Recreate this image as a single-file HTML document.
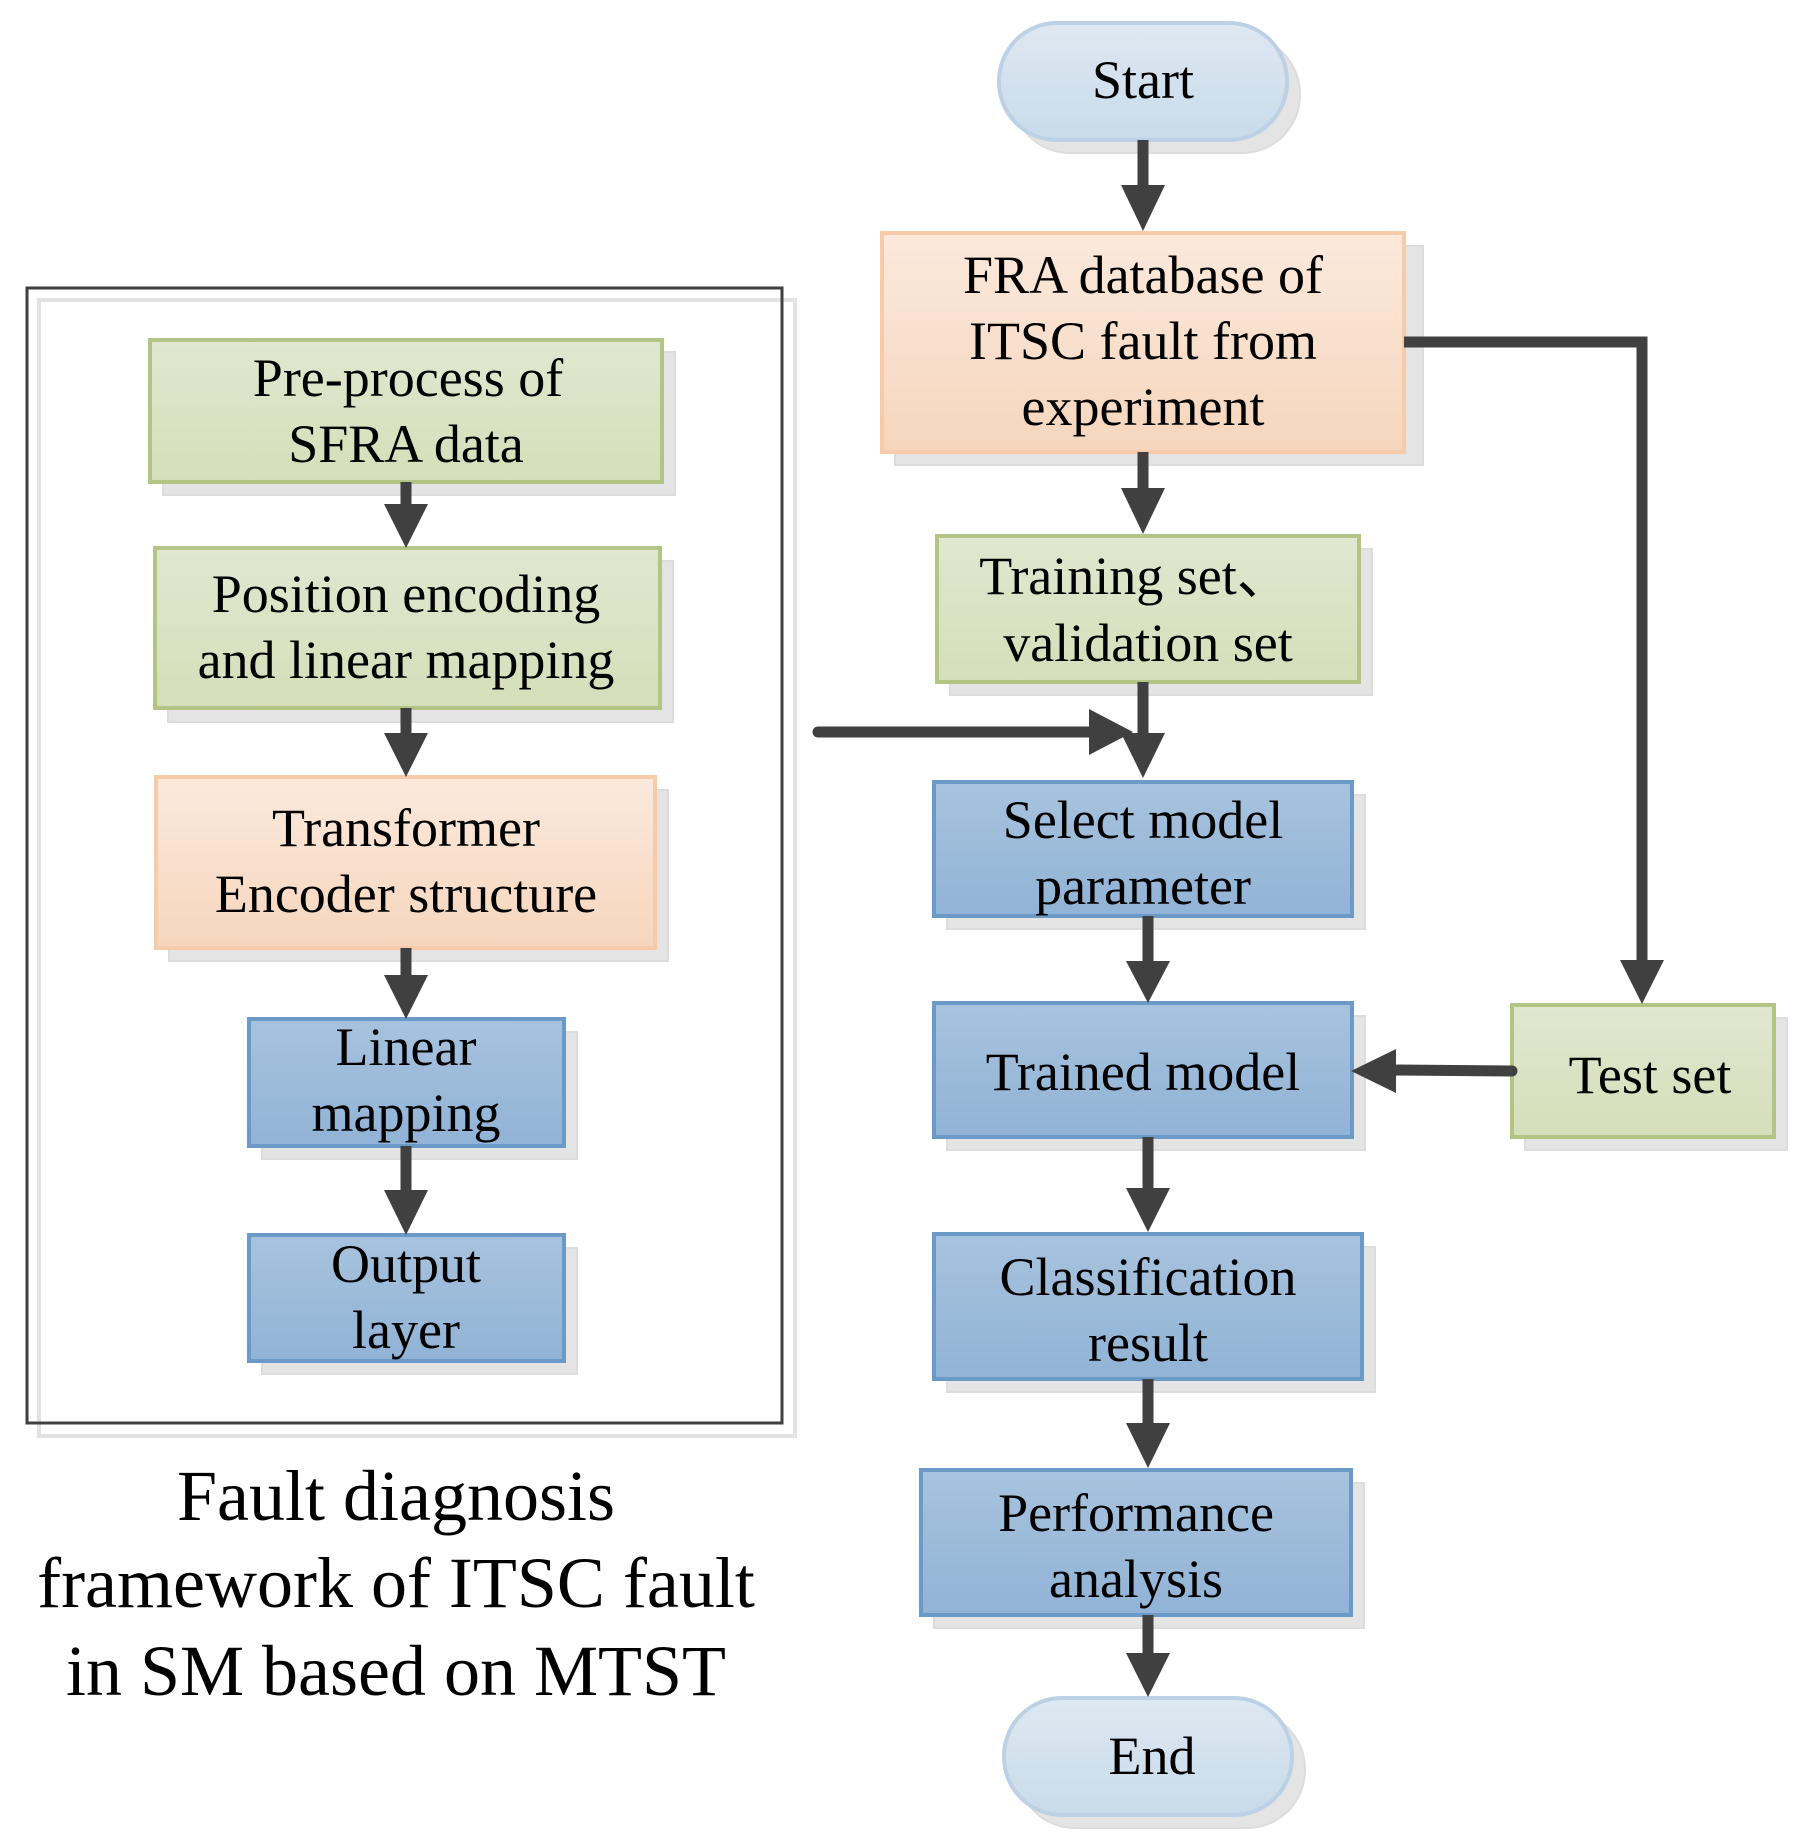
<!DOCTYPE html>
<html><head><meta charset="utf-8"><style>html,body{margin:0;padding:0;background:#fff}svg{display:block}</style></head><body>
<svg width="1813" height="1848" viewBox="0 0 1813 1848" xmlns="http://www.w3.org/2000/svg" font-family="'Liberation Serif',serif">
<defs>
<linearGradient id="g" x1="0" y1="0" x2="0" y2="1"><stop offset="0" stop-color="#e1e7d0"/><stop offset="1" stop-color="#d5deb9"/></linearGradient>
<linearGradient id="o" x1="0" y1="0" x2="0" y2="1"><stop offset="0" stop-color="#fbe9dc"/><stop offset="1" stop-color="#f6d6bd"/></linearGradient>
<linearGradient id="b" x1="0" y1="0" x2="0" y2="1"><stop offset="0" stop-color="#a7c3de"/><stop offset="1" stop-color="#91b3d6"/></linearGradient>
<linearGradient id="l" x1="0" y1="0" x2="0" y2="1"><stop offset="0" stop-color="#dfe8f2"/><stop offset="1" stop-color="#c8dbea"/></linearGradient>
</defs>
<rect x="39" y="300" width="756" height="1136" fill="none" stroke="#e3e3e3" stroke-width="4"/>
<rect x="27" y="288" width="755" height="1135" fill="none" stroke="#404040" stroke-width="3"/>
<g stroke-width="4">
<g fill="#e4e4e4" stroke="#dddddd" stroke-width="2">
<rect x="163" y="352" width="512" height="143"/>
<rect x="168" y="561" width="505" height="161"/>
<rect x="169" y="790" width="499" height="171"/>
<rect x="262" y="1032" width="315" height="127"/>
<rect x="262" y="1248" width="315" height="126"/>
<rect x="895" y="246" width="528" height="219"/>
<rect x="950" y="549" width="422" height="146"/>
<rect x="947" y="795" width="418" height="134"/>
<rect x="947" y="1016" width="418" height="134"/>
<rect x="1525" y="1018" width="262" height="132"/>
<rect x="947" y="1247" width="428" height="145"/>
<rect x="934" y="1483" width="430" height="145"/>
<rect x="1012" y="36" width="288" height="117" rx="58"/>
<rect x="1017" y="1711" width="288" height="117" rx="58"/>
</g>
<rect x="150" y="340" width="512" height="142" fill="url(#g)" stroke="#b4c485"/>
<rect x="155" y="548" width="505" height="160" fill="url(#g)" stroke="#b4c485"/>
<rect x="156" y="777" width="499" height="171" fill="url(#o)" stroke="#f5cba9"/>
<rect x="249" y="1019" width="315" height="127" fill="url(#b)" stroke="#6b9ac8"/>
<rect x="249" y="1235" width="315" height="126" fill="url(#b)" stroke="#6b9ac8"/>
<rect x="882" y="233" width="522" height="219" fill="url(#o)" stroke="#f5cba9"/>
<rect x="937" y="536" width="422" height="146" fill="url(#g)" stroke="#b4c485"/>
<rect x="934" y="782" width="418" height="134" fill="url(#b)" stroke="#6b9ac8"/>
<rect x="934" y="1003" width="418" height="134" fill="url(#b)" stroke="#6b9ac8"/>
<rect x="1512" y="1005" width="262" height="132" fill="url(#g)" stroke="#b4c485"/>
<rect x="934" y="1234" width="428" height="145" fill="url(#b)" stroke="#6b9ac8"/>
<rect x="921" y="1470" width="430" height="145" fill="url(#b)" stroke="#6b9ac8"/>
<rect x="999" y="23" width="288" height="117" rx="58" fill="url(#l)" stroke="#bcd1e6"/>
<rect x="1004" y="1698" width="288" height="117" rx="58" fill="url(#l)" stroke="#bcd1e6"/>
</g>
<g stroke="#404040" stroke-width="11" fill="none">
<line x1="1143" y1="140" x2="1143" y2="195"/>
<line x1="1143" y1="452" x2="1143" y2="500"/>
<line x1="1143" y1="682" x2="1143" y2="740"/>
<line x1="818" y1="732" x2="1095" y2="732" stroke-linecap="round"/>
<line x1="1148" y1="916" x2="1148" y2="968"/>
<line x1="1148" y1="1137" x2="1148" y2="1195"/>
<line x1="1148" y1="1379" x2="1148" y2="1430"/>
<line x1="1148" y1="1615" x2="1148" y2="1665"/>
<polyline points="1404,342 1642,342 1642,970"/>
<line x1="1512" y1="1071" x2="1390" y2="1070" stroke-linecap="round"/>
<line x1="406" y1="482" x2="406" y2="515"/>
<line x1="406" y1="708" x2="406" y2="740"/>
<line x1="406" y1="948" x2="406" y2="985"/>
<line x1="406" y1="1146" x2="406" y2="1200"/>
</g>
<g fill="#404040">
<polygon points="1121,185 1165,185 1143,231"/>
<polygon points="1121,488 1165,488 1143,534"/>
<polygon points="1121,733 1165,733 1143,778"/>
<polygon points="1089,709 1133,732 1089,755"/>
<polygon points="1126,961 1170,961 1148,1003"/>
<polygon points="1126,1188 1170,1188 1148,1232"/>
<polygon points="1126,1423 1170,1423 1148,1468"/>
<polygon points="1126,1653 1170,1653 1148,1697"/>
<polygon points="1620,960 1664,960 1642,1004"/>
<polygon points="1396,1049 1396,1093 1351,1071"/>
<polygon points="384,504 428,504 406,548"/>
<polygon points="384,733 428,733 406,777"/>
<polygon points="384,975 428,975 406,1019"/>
<polygon points="384,1190 428,1190 406,1235"/>
</g>
<g font-size="54" text-anchor="middle" fill="#000">
<text x="1143" y="98">Start</text>
<text x="1143" y="293">FRA database of</text>
<text x="1143" y="359">ITSC fault from</text>
<text x="1143" y="425">experiment</text>
<text x="1135" y="594">Training set、</text>
<text x="1148" y="661">validation set</text>
<text x="1143" y="838">Select model</text>
<text x="1143" y="904">parameter</text>
<text x="1143" y="1090">Trained model</text>
<text x="1650" y="1093">Test set</text>
<text x="1148" y="1295">Classification</text>
<text x="1148" y="1361">result</text>
<text x="1136" y="1531">Performance</text>
<text x="1136" y="1597">analysis</text>
<text x="1152" y="1774">End</text>
<text x="408" y="396">Pre-process of</text>
<text x="406" y="462">SFRA data</text>
<text x="406" y="612">Position encoding</text>
<text x="406" y="678">and linear mapping</text>
<text x="406" y="846">Transformer</text>
<text x="406" y="912">Encoder structure</text>
<text x="406" y="1065">Linear</text>
<text x="406" y="1131">mapping</text>
<text x="406" y="1282">Output</text>
<text x="406" y="1348">layer</text>
</g>
<g font-size="72" text-anchor="middle" fill="#000">
<text x="396" y="1520">Fault diagnosis</text>
<text x="396" y="1607">framework of ITSC fault</text>
<text x="396" y="1695">in SM based on MTST</text>
</g>
</svg>
</body></html>
